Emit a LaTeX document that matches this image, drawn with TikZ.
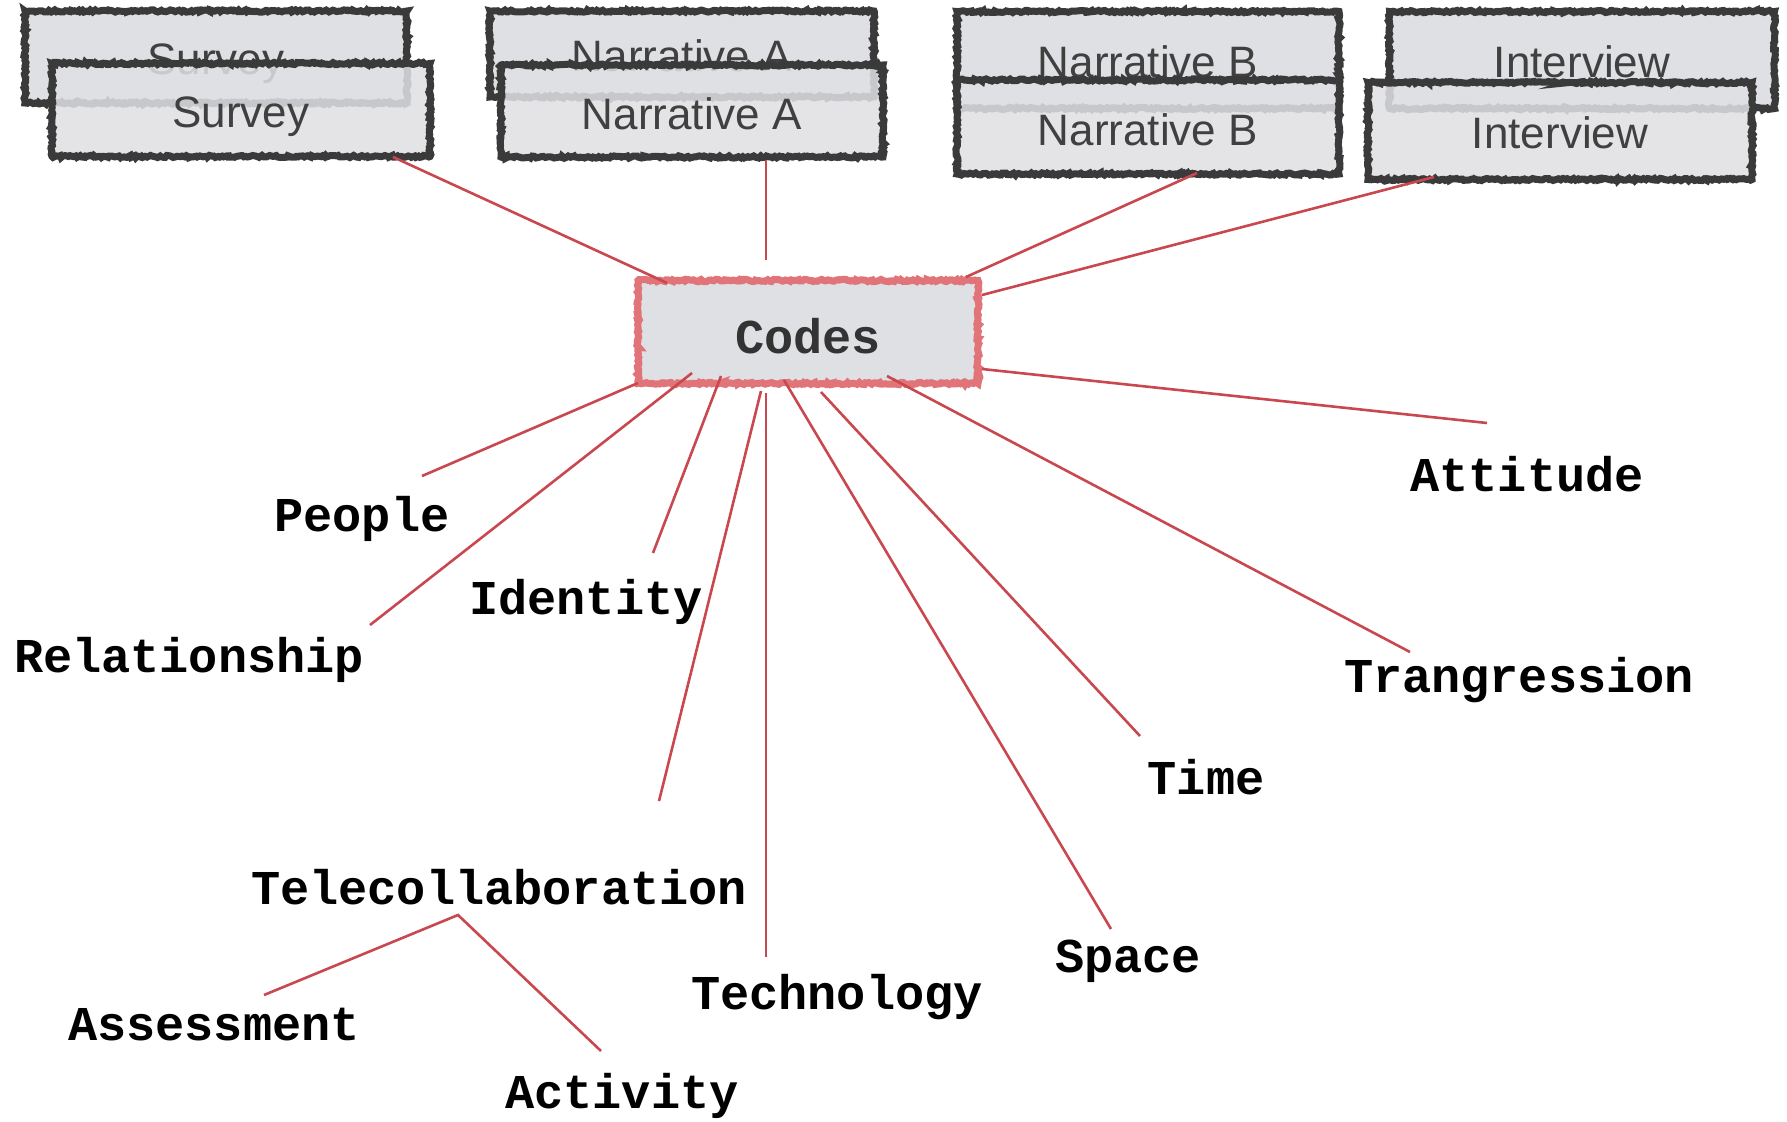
\documentclass[tikz,border=0pt]{standalone}
\usepackage{fontspec}
\setmainfont{Liberation Sans}
\newfontfamily\codefont{Liberation Mono}
\usetikzlibrary{decorations.pathmorphing}

\definecolor{boxfill}{HTML}{DFE0E3}
\definecolor{boxedge}{HTML}{3A3A3A}
\definecolor{linkred}{HTML}{C9474E}
\definecolor{codesedge}{HTML}{E07479}
\definecolor{srctext}{HTML}{404040}

% text set on a zero-size box, so that its baseline can be placed freely
\newcommand{\lowered}[1]{\raisebox{-18pt}[0pt][0pt]{#1}}

\tikzset{
  sketch/.style={decorate, decoration={random steps, segment length=2pt, amplitude=1.1pt}},
  srcbox/.style={sketch, draw=boxedge, fill=boxfill, line width=7pt, inner sep=0pt,
    minimum width=382pt, minimum height=93pt, text=srctext,
    font=\fontsize{44pt}{48pt}\selectfont},
  frontbox/.style={srcbox, fill opacity=0.86, text opacity=1},
  codebox/.style={sketch, draw=codesedge, fill=boxfill, line width=7pt, inner sep=0pt,
    minimum width=340pt, minimum height=103pt, text=black!80,
    font=\codefont\bfseries\fontsize{48.6pt}{50pt}\selectfont},
  codelabel/.style={inner sep=0pt, font=\codefont\bfseries\fontsize{48.6pt}{50pt}\selectfont},
  link/.style={draw=linkred, line width=2.6pt}
}

\begin{document}
\begin{tikzpicture}[x=1pt, y=-1pt]
  \useasboundingbox (0,0) rectangle (1787,1121);

  % data sources, each a stacked pair of boxes
  \node[srcbox, minimum width=382pt, minimum height=92pt] (survey-b) at (216,57) {\lowered{Survey}};
  \node[frontbox, minimum width=378pt] (survey) at (241,110) {\lowered{Survey}};

  \node[srcbox, minimum width=384pt, minimum height=86pt] (narrA-b) at (682,54) {\lowered{Narrative A}};
  \node[frontbox, minimum width=382pt, minimum height=92pt] (narrA) at (692,111) {\lowered{Narrative A}};

  \node[srcbox, minimum height=97pt] (narrB-b) at (1148,60) {\lowered{Narrative B}};
  \node[frontbox, minimum height=94pt] (narrB) at (1148,127) {\lowered{Narrative B}};

  \node[srcbox, minimum width=385pt, minimum height=97pt] (interv-b) at (1582,60) {\lowered{Interview}};
  \node[frontbox, minimum width=384pt, minimum height=97pt] (interv) at (1560,131) {\lowered{Interview}};

  % central node
  \node[codebox] (codes) at (808,332) {\raisebox{-21pt}[0pt][0pt]{Codes}};

  % code labels
  \node[codelabel] (attitude) at (1527,474) {Attitude};
  \node[codelabel] (people) at (362,519) {People};
  \node[codelabel] (identity) at (586,602) {Identity};
  \node[codelabel] (relation) at (189,660) {Relationship};
  \node[codelabel] (transg) at (1519,680) {Trangression};
  \node[codelabel] (time) at (1206,777) {Time};
  \node[codelabel] (telecol) at (499,887) {Telecollaboration};
  \node[codelabel] (space) at (1128,961) {Space};
  \node[codelabel] (techno) at (837,997) {Technology};
  \node[codelabel] (assess) at (214,1025) {Assessment};
  \node[codelabel] (activity) at (622,1096) {Activity};

  % connector end points
  \coordinate (s-survey) at (393,157);
  \coordinate (c-survey) at (667,283);
  \coordinate (s-narrA) at (766,160);
  \coordinate (c-narrA) at (766,260);
  \coordinate (s-narrB) at (1197,173);
  \coordinate (c-narrB) at (966,277);
  \coordinate (s-interv) at (1434,177);
  \coordinate (c-interv) at (982,295);

  \coordinate (c-attitude) at (982,369);
  \coordinate (e-attitude) at (1487,423);
  \coordinate (c-people) at (638,383);
  \coordinate (e-people) at (422,476);
  \coordinate (c-relation) at (692,373);
  \coordinate (e-relation) at (370,625);
  \coordinate (c-identity) at (721,376);
  \coordinate (e-identity) at (653,553);
  \coordinate (c-telecol) at (761,391);
  \coordinate (e-telecol) at (659,801);
  \coordinate (c-techno) at (766,393);
  \coordinate (e-techno) at (766,957);
  \coordinate (c-space) at (784,380);
  \coordinate (e-space) at (1111,929);
  \coordinate (c-time) at (821,392);
  \coordinate (e-time) at (1140,736);
  \coordinate (c-transg) at (887,376);
  \coordinate (e-transg) at (1410,652);
  \coordinate (t-hub) at (458,915);
  \coordinate (e-assess) at (264,995);
  \coordinate (e-activity) at (601,1051);

  % connectors
  \begin{scope}[link]
    \draw (s-survey) -- (c-survey);
    \draw (s-narrA) -- (c-narrA);
    \draw (s-narrB) -- (c-narrB);
    \draw (s-interv) -- (c-interv);
    \draw (c-attitude) -- (e-attitude);
    \draw (c-people) -- (e-people);
    \draw (c-relation) -- (e-relation);
    \draw (c-identity) -- (e-identity);
    \draw (c-telecol) -- (e-telecol);
    \draw (c-techno) -- (e-techno);
    \draw (c-space) -- (e-space);
    \draw (c-time) -- (e-time);
    \draw (c-transg) -- (e-transg);
    \draw (e-assess) -- (t-hub) -- (e-activity);
  \end{scope}
\end{tikzpicture}
\end{document}
